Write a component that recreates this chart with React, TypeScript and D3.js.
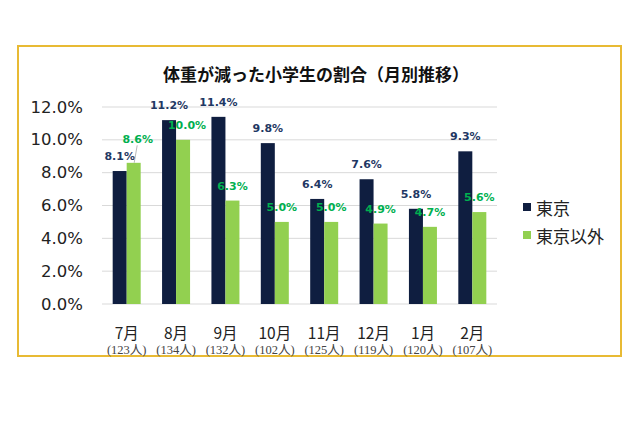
import React from "react";
import * as d3 from "d3";

const months = ["7月", "8月", "9月", "10月", "11月", "12月", "1月", "2月"];
const counts = ["(123人)", "(134人)", "(132人)", "(102人)", "(125人)", "(119人)", "(120人)", "(107人)"];
const seriesNames = ["東京", "東京以外"];
const tokyo = [8.1, 11.2, 11.4, 9.8, 6.4, 7.6, 5.8, 9.3];
const others = [8.6, 10.0, 6.3, 5.0, 5.0, 4.9, 4.7, 5.6];
const yTicks = [0, 2, 4, 6, 8, 10, 12];

const W = 640;
const H = 426;
const colors = ["#0F1E40", "#92D050"];
const labelColors = ["#1F3864", "#00B050"];

export default function App() {
  const x = d3.scaleBand<string>().domain(months).range([102, 497]).paddingInner(0).paddingOuter(0);
  const sub = d3
    .scaleBand<string>()
    .domain(seriesNames)
    .range([0, x.bandwidth()])
    .paddingInner(0)
    .paddingOuter((x.bandwidth() / 14 - 2) / 2);
  const y = d3.scaleLinear().domain([0, 12]).range([304, 107]);
  const series = [tokyo, others];

  return (
    <svg width={W} height={H} style={{ position: "absolute", left: 0, top: 0, background: "#fff" }}>
      <rect x={18} y={46} width={603} height={310} fill="#fff" stroke="#E8BA34" strokeWidth={2} />
      <text
        x={316}
        y={73}
        textAnchor="middle"
        dominantBaseline="central"
        fontFamily="'Noto Sans CJK JP', sans-serif"
        fontWeight="bold"
        fontSize={17}
        fill="#111"
      >
        体重が減った小学生の割合（月別推移）
      </text>
      {yTicks.map((t) => (
        <g key={t}>
          <line x1={102} x2={497} y1={y(t)} y2={y(t)} stroke="#D9D9D9" strokeWidth={1} />
          <text
            x={83}
            y={y(t)}
            textAnchor="end"
            dominantBaseline="central"
            fontFamily="'DejaVu Sans', Verdana, sans-serif"
            fontSize={16.5}
            fill="#222"
          >
            {t.toFixed(1)}%
          </text>
        </g>
      ))}
      {series.map((vals, si) =>
        vals.map((v, i) => {
          const bx = (x(months[i]) as number) + (sub(seriesNames[si]) as number);
          return (
            <rect
              key={`b${si}-${i}`}
              x={bx}
              y={y(v)}
              width={sub.bandwidth()}
              height={y(0) - y(v)}
              fill={colors[si]}
            />
          );
        })
      )}
      {series.map((vals, si) =>
        vals.map((v, i) => {
          const cx = (x(months[i]) as number) + (sub(seriesNames[si]) as number) + sub.bandwidth() / 2;
          let dx = 0;
          let dy = 0;
          if (si === 1 && i === 0) {
            dx = 4;
            dy = -9;
          }
          if (si === 1 && i === 1) dx = 4;
          const ly = y(v) - 14.5 + dy;
          return (
            <g key={`l${si}-${i}`}>
              {si === 1 && i === 0 && (
                <line x1={cx + dx - 0.5} y1={ly + 6} x2={cx + 0.5} y2={y(v)} stroke="#A6A6A6" strokeWidth={0.8} />
              )}
              <text
                x={cx + dx}
                y={ly}
                textAnchor="middle"
                dominantBaseline="central"
                fontFamily="'DejaVu Sans', Verdana, sans-serif"
                fontWeight="bold"
                fontSize={11}
                fill={labelColors[si]}
              >
                {v.toFixed(1)}%
              </text>
            </g>
          );
        })
      )}
      {months.map((m, i) => {
        const cx = (x(m) as number) + x.bandwidth() / 2;
        return (
          <g key={m}>
            <text
              x={cx}
              y={332}
              textAnchor="middle"
              dominantBaseline="central"
              fontFamily="'Noto Sans CJK JP', sans-serif"
              fontSize={15.5}
              fill="#222"
            >
              {m}
            </text>
            <text
              x={cx}
              y={350}
              textAnchor="middle"
              dominantBaseline="central"
              fontFamily="'Liberation Serif', 'Noto Sans CJK JP', serif"
              fontSize={12.5}
              fill="#444"
            >
              {counts[i]}
            </text>
          </g>
        );
      })}
      {seriesNames.map((s, si) => (
        <g key={s}>
          <rect x={523} y={203 + si * 28} width={8} height={8} fill={colors[si]} />
          <text
            x={536}
            y={207 + si * 28}
            dominantBaseline="central"
            fontFamily="'Noto Sans CJK JP', sans-serif"
            fontSize={17}
            fill="#222"
          >
            {s}
          </text>
        </g>
      ))}
    </svg>
  );
}
